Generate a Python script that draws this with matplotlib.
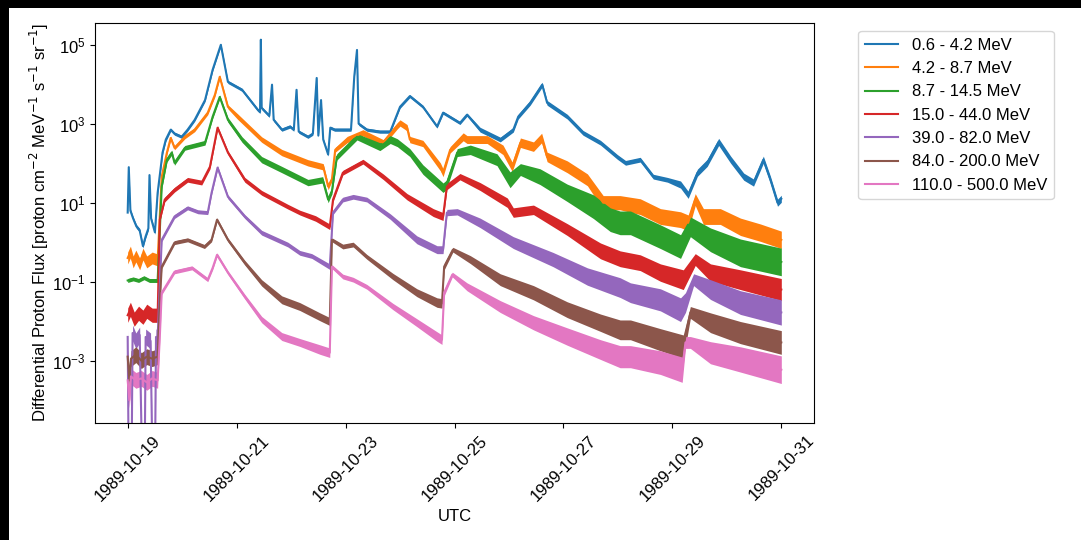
import datetime as dt
import matplotlib.pyplot as plt
import matplotlib.dates as mdates
import numpy as np
from matplotlib.patches import Rectangle

plt.rcParams['font.family'] = ['Liberation Sans', 'DejaVu Sans']

# start of the record (UTC)
start = dt.datetime(1989, 10, 19)

labels = ['0.6 - 4.2 MeV', '4.2 - 8.7 MeV', '8.7 - 14.5 MeV', '15.0 - 44.0 MeV',
          '39.0 - 82.0 MeV', '84.0 - 200.0 MeV', '110.0 - 500.0 MeV']

# t_* : days since start, f_* : log10 of flux, s_* : half width of the noise band (decades)
t_ch1 = [0.00, 0.02, 0.05, 0.10, 0.16, 0.22, 0.28, 0.33, 0.38, 0.40, 0.43, 0.50, 0.55, 0.64, 0.70,
         0.79, 0.86, 0.99, 1.10, 1.23, 1.42, 1.56, 1.71, 1.84, 2.10, 2.39, 2.43, 2.445, 2.46, 2.60,
         2.65, 2.68, 2.83, 2.98, 3.05, 3.10, 3.14, 3.31, 3.40, 3.47, 3.50, 3.55, 3.59, 3.68, 3.72,
         3.80, 4.10, 4.16, 4.21, 4.24, 4.39, 4.63, 4.82, 5.00, 5.18, 5.42, 5.68, 5.79, 6.10, 6.23,
         6.47, 6.84, 7.08, 7.17, 7.39, 7.61, 7.70, 8.07, 8.36, 8.68, 8.99, 9.14, 9.41, 9.65, 9.91,
         10.15, 10.29, 10.46, 10.64, 10.85, 11.07, 11.31, 11.49, 11.67, 11.80, 11.93, 12.00]
f_ch1 = [0.75, 1.90, 0.80, 0.60, 0.40, 0.30, -0.10, 0.15, 0.35, 1.70, 0.60, 0.25, 1.25, 2.27, 2.60,
         2.85, 2.75, 2.67, 2.85, 3.10, 3.60, 4.37, 5.00, 4.06, 3.86, 3.35, 3.30, 5.13, 3.40, 3.20,
         3.99, 3.10, 2.85, 2.93, 2.85, 3.86, 2.80, 2.67, 2.75, 4.16, 2.70, 3.60, 2.60, 2.22, 2.90,
         2.85, 2.85, 4.20, 4.87, 3.00, 2.85, 2.80, 2.80, 3.43, 3.70, 3.43, 2.93, 3.28, 3.02, 3.23,
         2.85, 2.60, 2.85, 3.18, 3.53, 3.99, 3.53, 3.18, 2.77, 2.52, 2.16, 2.01, 2.09, 1.66, 1.58,
         1.46, 1.20, 1.76, 2.01, 2.54, 2.09, 1.66, 1.51, 2.09, 1.58, 1.00, 1.10]
s_ch1 = [0.05] * 15 + [0.04] * 45 + [0.06] * 15 + [0.09] * 12

t_ch2 = [0.00, 0.05, 0.10, 0.15, 0.22, 0.28, 0.35, 0.45, 0.55, 0.625, 0.72, 0.79, 0.86, 1.05, 1.23,
         1.47, 1.60, 1.69, 1.84, 2.02, 2.46, 2.83, 3.31, 3.59, 3.68, 3.75, 3.81, 4.03, 4.32, 4.69,
         4.95, 5.00, 5.13, 5.18, 5.42, 5.74, 5.79, 5.92, 6.16, 6.23, 6.60, 6.89, 7.06, 7.21, 7.45,
         7.60, 7.70, 8.07, 8.44, 8.73, 9.04, 9.41, 9.78, 10.15, 10.29, 10.42, 10.57, 10.88, 11.25, 11.62, 12.00]
f_ch2 = [-0.40, -0.25, -0.50, -0.35, -0.55, -0.30, -0.50, -0.40, -0.45, 1.66, 2.27, 2.64, 2.39, 2.67, 2.85,
         3.28, 3.73, 4.19, 3.43, 3.18, 2.60, 2.27, 2.01, 1.91, 1.41, 1.60, 2.34, 2.60, 2.77, 2.52,
         2.95, 3.02, 2.90, 2.60, 2.50, 1.91, 1.76, 2.34, 2.67, 2.60, 2.60, 2.34, 1.91, 2.52, 2.42,
         2.64, 2.16, 1.91, 1.58, 1.00, 1.00, 0.90, 0.65, 0.57, 0.49, 1.08, 0.65, 0.65, 0.39, 0.24, 0.06]
s_ch2 = [0.15, 0.15, 0.15, 0.15, 0.15, 0.15, 0.15, 0.15, 0.15, 0.05, 0.05, 0.05, 0.05, 0.05, 0.05,
         0.05, 0.05, 0.05, 0.05, 0.07, 0.07, 0.08, 0.08, 0.08, 0.08, 0.06, 0.06, 0.08, 0.08, 0.08,
         0.08, 0.08, 0.08, 0.08, 0.08, 0.10, 0.10, 0.08, 0.10, 0.10, 0.10, 0.12, 0.12, 0.12, 0.12,
         0.12, 0.12, 0.15, 0.15, 0.18, 0.18, 0.20, 0.20, 0.20, 0.20, 0.15, 0.20, 0.20, 0.22, 0.22, 0.22]

t_ch3 = [0.00, 0.10, 0.20, 0.30, 0.40, 0.55, 0.625, 0.72, 0.81, 0.86, 1.05, 1.42, 1.56, 1.69, 1.84,
         2.10, 2.46, 2.83, 3.31, 3.58, 3.68, 3.75, 3.84, 4.21, 4.63, 4.82, 4.95, 5.18, 5.42, 5.79,
         5.85, 6.05, 6.29, 6.78, 7.02, 7.21, 7.57, 8.07, 8.55, 8.86, 9.04, 9.23, 9.78, 10.15, 10.33,
         10.70, 11.25, 12.00]
f_ch3 = [-0.97, -0.93, -0.97, -0.90, -0.97, -0.97, 1.41, 2.09, 2.27, 2.01, 2.39, 2.52, 3.18, 3.68, 3.10,
         2.60, 2.09, 1.84, 1.51, 1.58, 1.08, 1.30, 2.16, 2.67, 2.42, 2.60, 2.52, 2.27, 1.84, 1.38,
         1.45, 2.27, 2.34, 2.09, 1.58, 1.84, 1.66, 1.25, 0.90, 0.57, 0.49, 0.49, 0.14, -0.11, 0.39,
         0.06, -0.27, -0.50]
s_ch3 = [0.05, 0.05, 0.05, 0.05, 0.05, 0.05, 0.06, 0.06, 0.06, 0.06, 0.06, 0.06, 0.05, 0.05, 0.06,
         0.07, 0.08, 0.08, 0.08, 0.08, 0.08, 0.08, 0.08, 0.08, 0.10, 0.10, 0.10, 0.10, 0.12, 0.12,
         0.12, 0.10, 0.12, 0.15, 0.20, 0.15, 0.20, 0.22, 0.30, 0.30, 0.30, 0.30, 0.30, 0.30, 0.25,
         0.30, 0.35, 0.35]

t_ch4 = [0.00, 0.05, 0.12, 0.20, 0.28, 0.35, 0.45, 0.55, 0.59, 0.68, 0.86, 1.10, 1.36, 1.51, 1.65,
         1.84, 2.15, 2.46, 2.94, 3.16, 3.45, 3.71, 3.77, 3.95, 4.32, 4.69, 5.13, 5.61, 5.79, 5.86,
         6.10, 6.47, 6.97, 7.08, 7.45, 8.07, 8.68, 9.04, 9.41, 9.78, 10.20, 10.42, 10.70, 11.25, 12.00]
f_ch4 = [-1.85, -1.70, -1.95, -1.80, -1.90, -1.75, -1.85, -1.85, 0.57, 1.08, 1.33, 1.58, 1.51, 1.91, 2.90,
         2.27, 1.58, 1.25, 0.90, 0.75, 0.60, 0.39, 1.08, 1.76, 2.04, 1.66, 1.15, 0.75, 0.65, 1.41,
         1.66, 1.41, 1.00, 0.75, 0.82, 0.32, -0.22, -0.42, -0.52, -0.77, -0.95, -0.44, -0.77, -0.95, -1.20]
s_ch4 = [0.18, 0.18, 0.18, 0.18, 0.18, 0.18, 0.18, 0.18, 0.05, 0.06, 0.06, 0.06, 0.06, 0.06, 0.05,
         0.05, 0.06, 0.06, 0.06, 0.06, 0.07, 0.07, 0.06, 0.06, 0.06, 0.07, 0.08, 0.10, 0.10, 0.08,
         0.08, 0.10, 0.12, 0.12, 0.12, 0.15, 0.20, 0.20, 0.20, 0.22, 0.25, 0.15, 0.22, 0.25, 0.28]

t_ch5 = [0.00, 0.02, 0.07, 0.09, 0.15, 0.22, 0.27, 0.31, 0.33, 0.42, 0.46, 0.50, 0.52, 0.55, 0.625,
         0.86, 1.10, 1.29, 1.47, 1.54, 1.65, 1.84, 2.15, 2.46, 2.94, 3.16, 3.38, 3.71, 3.77, 3.95,
         4.14, 4.39, 4.82, 5.31, 5.68, 5.79, 5.86, 6.05, 6.47, 7.08, 7.81, 8.44, 9.04, 9.23, 9.78,
         10.15, 10.24, 10.39, 10.70, 11.25, 12.00]
f_ch5 = [-2.40, -6.00, -6.00, -2.30, -2.50, -2.35, -6.00, -6.00, -2.40, -2.50, -6.00, -6.00, -2.40, -2.40, 0.06,
         0.65, 0.87, 0.77, 0.75, 1.25, 1.89, 1.15, 0.65, 0.24, -0.06, -0.27, -0.35, -0.62, 0.75, 1.08,
         1.15, 1.08, 0.65, 0.06, -0.19, -0.19, 0.75, 0.77, 0.49, -0.01, -0.44, -0.87, -1.15, -1.28, -1.46,
         -1.71, -1.53, -0.95, -1.20, -1.53, -1.78]
s_ch5 = [0.20, 0.00, 0.00, 0.20, 0.20, 0.20, 0.00, 0.00, 0.20, 0.20, 0.00, 0.00, 0.20, 0.20, 0.05,
         0.05, 0.05, 0.05, 0.05, 0.05, 0.05, 0.05, 0.05, 0.06, 0.06, 0.06, 0.06, 0.07, 0.05, 0.06,
         0.06, 0.06, 0.07, 0.10, 0.10, 0.10, 0.08, 0.08, 0.12, 0.15, 0.18, 0.22, 0.25, 0.25, 0.28,
         0.30, 0.25, 0.15, 0.25, 0.30, 0.32]

t_ch6 = [0.00, 0.03, 0.06, 0.15, 0.25, 0.35, 0.45, 0.55, 0.59, 0.625, 0.86, 1.10, 1.41, 1.54, 1.64,
         1.84, 2.15, 2.46, 2.83, 3.16, 3.53, 3.71, 3.75, 3.95, 4.14, 4.39, 4.87, 5.31, 5.68, 5.77,
         5.81, 5.97, 6.29, 6.84, 7.45, 8.07, 8.68, 9.04, 9.23, 9.78, 10.20, 10.33, 10.70, 11.25, 12.00]
f_ch6 = [-2.90, -3.50, -2.95, -2.85, -3.00, -2.90, -2.95, -2.90, -1.50, -0.62, -0.01, 0.06, -0.11, 0.06, 0.57,
         0.06, -0.52, -1.03, -1.46, -1.63, -1.89, -2.01, 0.06, -0.11, -0.06, -0.37, -0.87, -1.28, -1.53, -1.55,
         -0.62, -0.19, -0.44, -0.95, -1.28, -1.71, -2.04, -2.22, -2.22, -2.47, -2.65, -1.78, -2.04, -2.29, -2.54]
s_ch6 = [0.20, 0.20, 0.20, 0.20, 0.20, 0.20, 0.20, 0.20, 0.05, 0.05, 0.05, 0.05, 0.05, 0.05, 0.05,
         0.05, 0.06, 0.08, 0.10, 0.10, 0.10, 0.10, 0.05, 0.06, 0.06, 0.06, 0.08, 0.10, 0.12, 0.12,
         0.08, 0.06, 0.10, 0.15, 0.18, 0.20, 0.22, 0.25, 0.25, 0.28, 0.30, 0.15, 0.25, 0.28, 0.30]

t_ch7 = [0.00, 0.03, 0.06, 0.15, 0.25, 0.35, 0.45, 0.55, 0.59, 0.625, 0.86, 1.18, 1.47, 1.56, 1.64,
         1.84, 2.15, 2.46, 2.83, 3.16, 3.53, 3.71, 3.75, 3.95, 4.14, 4.39, 4.87, 5.31, 5.68, 5.77,
         5.81, 5.96, 6.23, 6.84, 7.45, 8.07, 8.68, 9.04, 9.23, 9.78, 10.18, 10.24, 10.33, 10.70, 11.25,
         12.00]
f_ch7 = [-3.50, -4.00, -3.40, -3.50, -3.45, -3.55, -3.45, -3.50, -2.39, -1.28, -0.75, -0.65, -0.95, -0.65, -0.32,
         -0.77, -1.38, -1.96, -2.39, -2.54, -2.72, -2.80, -0.62, -0.87, -0.95, -1.13, -1.63, -2.04, -2.39, -2.47,
         -1.28, -0.82, -1.13, -1.63, -2.04, -2.39, -2.72, -2.90, -2.90, -3.05, -3.23, -2.54, -2.54, -2.80, -2.97,
         -3.23]
s_ch7 = [0.20, 0.20, 0.20, 0.20, 0.20, 0.20, 0.20, 0.20, 0.05, 0.05, 0.05, 0.05, 0.05, 0.05, 0.05,
         0.05, 0.06, 0.08, 0.10, 0.10, 0.12, 0.12, 0.05, 0.06, 0.06, 0.06, 0.08, 0.10, 0.12, 0.12,
         0.08, 0.06, 0.10, 0.15, 0.18, 0.22, 0.25, 0.28, 0.28, 0.30, 0.32, 0.15, 0.15, 0.28, 0.32,
         0.35]

times = [t_ch1, t_ch2, t_ch3, t_ch4, t_ch5, t_ch6, t_ch7]
fluxes = [f_ch1, f_ch2, f_ch3, f_ch4, f_ch5, f_ch6, f_ch7]
spreads = [s_ch1, s_ch2, s_ch3, s_ch4, s_ch5, s_ch6, s_ch7]

fig = plt.figure(figsize=(10.81, 5.4), dpi=100)
# screenshot frame: black band on top and left
fig.patch.set_facecolor('black')
fig.add_artist(Rectangle((9 / 1081, 0), 1, 1 - 8 / 540, transform=fig.transFigure,
                         facecolor='white', edgecolor='none', zorder=-1))
ax = fig.add_axes([95 / 1081, 1 - 423 / 540, (814 - 95) / 1081, (423 - 22.7) / 540])

for i, (t, f, s, lab) in enumerate(zip(times, fluxes, spreads, labels)):
    x = [start + dt.timedelta(days=d) for d in t]
    f = np.array(f)
    s = np.array(s)
    col = 'C%d' % i
    # noise band of the channel, then its line on top
    ax.fill_between(x, 10 ** (f - s), 10 ** (f + s), color=col, lw=0)
    ax.plot(x, 10 ** f, color=col, label=lab)

ax.set_yscale('log')
ax.set_ylim(10 ** -4.58, 10 ** 5.56)
ax.xaxis.set_major_locator(mdates.DayLocator(bymonthday=range(1, 32, 2)))
ax.xaxis.set_major_formatter(mdates.DateFormatter('%Y-%m-%d'))
plt.setp(ax.get_xticklabels(), rotation=45)
ax.tick_params(labelsize=12)
ax.set_xlabel('UTC', fontsize=12)
ax.set_ylabel(r'Differential Proton Flux [proton cm$^{-2}$ MeV$^{-1}$ s$^{-1}$ sr$^{-1}$]', fontsize=12,
              labelpad=1)
ax.legend(loc='upper left', bbox_to_anchor=(1.05, 1), fontsize=12)

plt.savefig('out.png', dpi=100, facecolor=fig.get_facecolor())
